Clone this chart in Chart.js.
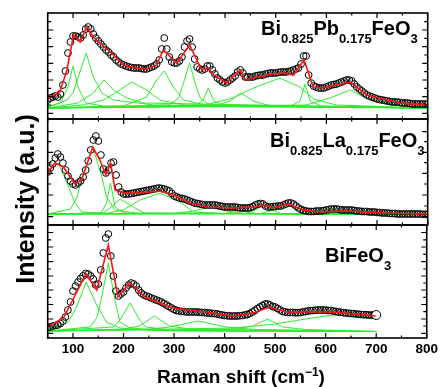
<!DOCTYPE html>
<html>
<head>
<meta charset="utf-8">
<script src="https://cdn.jsdelivr.net/npm/chart.js@4.4.0/dist/chart.umd.min.js"></script>
<style>
html,body{margin:0;padding:0;background:#fff;}
#wrap{position:relative;width:441px;height:387px;overflow:hidden;}
#wrap canvas{position:absolute;left:0;top:0;}
</style>
</head>
<body>
<div id="wrap">
  <canvas id="cPb" width="441" height="387"></canvas>
  <canvas id="cLa" width="441" height="387"></canvas>
  <canvas id="cBi" width="441" height="387"></canvas>
</div>
<script>
// Raman shift (cm-1) of the measured points, one row per 50 cm-1
const shift = [
  50,55,60,65,70,75,80,85,90,95,
  100,105,110,115,120,125,130,135,140,145,
  150,155,160,165,170,175,180,185,190,195,
  200,205,210,215,220,225,230,235,240,245,
  250,255,260,265,270,275,280,285,290,295,
  300,305,310,315,320,325,330,335,340,345,
  350,355,360,365,370,375,380,385,390,395,
  400,405,410,415,420,425,430,435,440,445,
  450,455,460,465,470,475,480,485,490,495,
  500,505,510,515,520,525,530,535,540,545,
  550,555,560,565,570,575,580,585,590,595,
  600,605,610,615,620,625,630,635,640,645,
  650,655,660,665,670,675,680,685,690,695,
  700,705,710,715,720,725,730,735,740,745,
  750,755,760,765,770,775,780,785,790,795,
  800];
const shiftBi = shift.slice(0, 131); // BiFeO3 stops at 700

// measured intensities (a.u.)
const pbIntensity = [
  19,21,22,23,22,25,34,48,66,77,
  83,83,82,81,84,90,92,90,85,81,
  78,75,72,69,67,64,62,59,57,55,
  54,53,52,51.5,51,51,51,50.5,50,50,
  51,52,53,55,59,70,81,70,62,57,
  56,56,58,62,72,78,80,72,60,52,
  50,49,50,53,53,49,45,41,39,37,
  36,37,39,41,43,47,49,46,42,42,
  42,42,43,43.5,44,44,45,45.5,46,46,
  46,46.5,47,47,47,47.5,48,49,50,51,
  55,63,63,44,36,33,32,31,31,31,
  32,33,34,34.5,35,36,37,38,39,39,
  38,35,32,30,28,26,24,23,22,21,
  20,19.5,19,18.5,18,17.5,17,17,17,16.5,
  16,16,16,15.5,15,15,15,15,15,15,
  15];
const laIntensity = [
  53,57,61,67,71,68,62,55,49,44,
  41,40,42,44,48,55,64,75,85,89,
  84,70,56,52,55,62,63,50,38,33,
  31,31,31,31.5,32,32.5,33,33.5,34,34.5,
  35,35.5,36,36.5,37,36.5,36,35,34,31.5,
  29,28,27,26.5,26,25,24,23,22,21.5,
  21,20.5,20,20,20,20,20,19.5,19,18.5,
  18,18,18,18,18,17.5,17,17,17,17,
  17.5,18.5,20,21,21.5,21,19,18,18,18.5,
  18.5,19,19,20,21,22,22,21,19,17,
  15.5,14.5,14,13.5,13.5,13.5,14,14,14,14.5,
  15,15.5,16,16,16,15.5,15,15,15,15,
  15,14.5,14,14,13.5,13.5,13.5,13,13,13,
  12.5,12.5,12,12,12,11.5,11.5,11.5,11,11,
  11,11,11,11,11,11,11,11,10.7,10.7,
  10.7];
const biIntensity = [
  10.7,11,12,12.5,13,14.5,17,21,28,36,
  47,52,56,59.5,62,64.5,64,62,59,53,
  54,68,85,100,104,82,62,47,42,44,
  46,50,53,55,54,52,48,45,43,42,
  41,40,39,38,37,36,34.5,33,31.5,30,
  28.5,27.5,27,26.5,26.5,26,26,26,26,26,
  25.7,25.5,25.5,25,25,24.5,24.5,24,23.5,23,
  22.5,22.3,22,22,22,22,22.3,22.5,23,23.5,
  24.5,26,27.5,29.5,31,32.5,34,34,33,31.5,
  31,29.5,28,26.5,26,25.5,25.5,25.5,25.3,25.3,
  25.5,26,26.5,27,27.3,27.5,27.7,28,28,28,
  28,27.5,27.5,27,26.5,26,25.7,25.3,25,24.7,
  24.5,24.3,24,23.8,23.5,23.3,23.2,23,23,23,
  23];

// fitted envelopes (red)
const pbFitShift = [50,74,88,101,114,127,140,153,180,199,226,245,265,278,305,330,354,367,377,403,430,439,482,515,535,556,574,594,647,680,745,798];
const pbFit = [20,27,49,84,77,92,82,76,64,54,51,50,54,69,56,74,49,51,44,36,49,39,44,46,44,59,32,31,37,24,16,14];
const laFitShift = [50,64,81,104,117,139,153,165,174,183,199,232,272,298,331,364,416,456,476,495,525,555,588,640,713,798];
const laFit = [52,62,58,41,45,78,65,50,62,35,32,32,34,30,22,18,17,18,20,17,21,15,13,14,12,11];
const biFitShift = [50,81,126,147,170,189,212,245,272,298,351,416,456,489,522,614,699];
const biFit = [11,20,64,48,93,41,55,40,35,30,27,22,25,31,26,26,22];

// deconvoluted peaks (green), [shift, intensity]
const pbPeaks = [
  [[50,12],[75,16],[90,32],[100,53],[110,32],[125,16],[160,13],[800,11]],
  [[50,12],[88,19],[100,26],[113,46],[126,66],[140,42],[157,26],[180,19],[260,14],[800,11]],
  [[50,11],[110,16],[140,26],[161,39],[180,29],[206,21],[240,16],[800,11]],
  [[50,11],[120,14],[160,19],[186,27],[216,37],[245,29],[272,19],[320,14],[800,11]],
  [[50,11],[200,13],[245,22],[265,39],[280,48],[298,32],[318,19],[360,14],[800,11]],
  [[50,11],[290,14],[308,21],[318,36],[330,56],[341,36],[351,21],[370,14],[800,11]],
  [[50,11],[340,13],[357,19],[367,31],[377,19],[395,13],[800,11]],
  [[50,11],[380,13],[410,18],[431,26],[456,18],[490,13],[800,11]],
  [[50,11],[360,14],[416,21],[456,31],[508,41],[548,32],[575,20],[620,14],[800,11]],
  [[50,11],[530,13],[548,18],[558,35],[568,18],[590,13],[800,11]],
  [[50,11],[560,14],[607,21],[647,29],[686,19],[740,14],[800,11]]
];
const laPeaks = [
  [[50,53],[71,62],[88,42],[104,22],[118,13],[160,11.5],[800,10.7]],
  [[50,11],[95,16],[108,28],[118,48],[139,78],[157,48],[166,28],[183,15],[230,11.5],[800,10.7]],
  [[50,11],[155,12],[166,22],[174,42],[183,18],[200,12],[800,10.7]],
  [[50,11],[160,12],[180,20],[193,26],[219,18],[240,12],[800,10.7]],
  [[50,11],[170,12],[199,15],[232,25],[272,32],[311,23],[338,13],[400,11.5],[800,10.7]],
  [[50,11],[300,11.5],[338,14],[370,18],[403,14],[440,11.5],[800,10.7]],
  [[50,11],[400,11.5],[415,13],[430,15],[445,13],[460,11.5],[800,10.7]],
  [[50,11],[440,11.5],[460,15],[476,20],[492,15],[510,11.5],[800,10.7]],
  [[50,11],[470,11.5],[495,15],[525,22],[552,14],[580,11.5],[800,10.7]]
];
const biPeaks = [
  [[50,9],[68,11],[91,16],[107,31],[126,56],[147,33],[166,16],[193,10],[260,7.5],[700,6.5]],
  [[50,7],[134,11],[147,20],[157,41],[170,75],[183,38],[193,16],[212,10],[300,7],[700,6.5]],
  [[50,7],[180,11],[193,18],[213,35],[232,18],[245,11],[300,7.5],[700,6.5]],
  [[50,7],[200,9],[232,12],[261,22],[291,12],[330,9],[700,6.5]],
  [[50,7],[240,8.5],[291,11],[348,17],[403,11],[460,8.5],[700,6.5]],
  [[50,7],[420,9],[456,12],[485,19],[515,11],[560,8.5],[700,6.5]],
  [[50,7],[420,10],[500,14],[560,19],[614,23],[660,22],[700,19]]
];

// y tick marks (no labels)
const pbYTicks = [5.7,14,22.3,30.7,39,47.3,55.7,64,72.3,80.7,89,97.3];
const laYTicks = [8.3,19,30,41,51.7,62.3,72.7,83.3,93.3];
const biYTicks = [4.7,12,19,26.3,33.5,40.7,48,55,62,69,76.3,83.7,91,98.2,105.5];

// sample names, [text, isSubscript]
const pbLabel = [['Bi',0],['0.825',1],['Pb',0],['0.175',1],['FeO',0],['3',1]];
const laLabel = [['Bi',0],['0.825',1],['La',0],['0.175',1],['FeO',0],['3',1]];
const biLabel = [['Bi',0],['FeO',0],['3',1]];

const FONT = '"Liberation Sans", Arial, Helvetica, sans-serif';
const GREEN = '#2eea2e';

const framePlugin = {
  id: 'frame',
  afterDatasetsDraw(chart, args, o){
    const {ctx, chartArea:a, scales} = chart;
    ctx.save();
    ctx.strokeStyle = '#000';
    ctx.lineWidth = 1.2;
    ctx.beginPath();
    scales.x.ticks.forEach(t=>{
      const px = scales.x.getPixelForValue(t.value);
      const len = t.value % 100 === 0 ? 5 : 2.5;
      ctx.moveTo(px, a.bottom); ctx.lineTo(px, a.bottom - len);
      ctx.moveTo(px, a.top); ctx.lineTo(px, a.top + len);
    });
    o.yTicks.forEach((v,i)=>{
      const py = scales.y.getPixelForValue(v);
      const len = i % 2 === 0 ? 5.5 : 3.5;
      ctx.moveTo(a.left, py); ctx.lineTo(a.left + len, py);
      ctx.moveTo(a.right, py); ctx.lineTo(a.right - len, py);
    });
    ctx.stroke();
    ctx.lineWidth = 1.6;
    ctx.strokeRect(a.left, a.top, a.right - a.left, a.bottom - a.top);

    // sample label with subscripts
    let x = o.labelX;
    ctx.fillStyle = '#000';
    ctx.textBaseline = 'alphabetic';
    o.label.forEach(([txt, sub])=>{
      ctx.font = sub ? 'bold 13px ' + FONT : 'bold 20px ' + FONT;
      ctx.fillText(txt, x, o.labelY + (sub ? 8 : 0));
      x += ctx.measureText(txt).width;
    });

    if(o.titles){
      // x title with superscript
      const parts = [['Raman shift (cm',0],['\u22121',1],[')',0]];
      let w = 0;
      parts.forEach(([t,s])=>{ ctx.font = (s?'bold 12px ':'bold 19px ')+FONT; w += ctx.measureText(t).width; });
      let tx = 241 - w/2;
      parts.forEach(([t,s])=>{
        ctx.font = (s?'bold 12px ':'bold 19px ')+FONT;
        ctx.fillText(t, tx, s ? 375.5 : 382.5);
        tx += ctx.measureText(t).width;
      });
      // y title
      ctx.translate(34, 199);
      ctx.rotate(-Math.PI/2);
      ctx.font = 'bold 25px ' + FONT;
      ctx.textAlign = 'center';
      ctx.fillText('Intensity (a.u.)', 0, 0);
    }
    ctx.restore();
  }
};

function pairs(xs, ys){ return xs.map((x,i)=>({x, y: ys[i]})); }

function makePanel(id, cfg){
  const n = cfg.intensity.length;
  const datasets = [
    {label:'fit', data: pairs(cfg.fitShift, cfg.fit), borderColor:'#ff1414', borderWidth:1.6,
     pointRadius:0, tension:0, order:0},
    {label:'data', data: pairs(cfg.shift, cfg.intensity), showLine:false,
     pointRadius: c => (cfg.lastBig && c.dataIndex === n-1) ? 4.5 : 3.4,
     pointBorderWidth: 1, pointBorderColor:'#000',
     pointBackgroundColor: c => (cfg.lastBig && c.dataIndex === n-1) ? '#fff' : 'rgba(255,255,255,0)',
     order:1}
  ];
  cfg.peaks.forEach((p,k)=>{
    datasets.push({label:'peak'+(k+1), data: p.map(([x,y])=>({x,y})), borderColor:GREEN,
      borderWidth:1, pointRadius:0, tension:0, order:2});
  });
  return new Chart(document.getElementById(id), {
    type:'line',
    data:{datasets},
    plugins:[framePlugin],
    options:{
      responsive:false, animation:false, devicePixelRatio:1,
      layout:{padding:cfg.padding},
      plugins:{legend:{display:false}, tooltip:{enabled:false},
        frame:{yTicks:cfg.yTicks, label:cfg.label, labelX:cfg.labelX, labelY:cfg.labelY, titles:cfg.titles}},
      scales:{
        x:{type:'linear', min:50, max:800,
          grid:{display:false, drawTicks:false}, border:{display:false},
          ticks:{stepSize:50, display:cfg.showX, autoSkip:false, maxRotation:0, padding:3,
            color:'#000', font:{family:FONT, size:13.5, weight:'bold'},
            callback: v => v % 100 === 0 ? v : ''},
          afterFit: s => { s.height = cfg.showX ? 49 : 0; }},
        y:{type:'linear', min:0, max:cfg.yMax,
          grid:{display:false, drawTicks:false}, border:{display:false},
          ticks:{display:false}, afterFit: s => { s.width = 0; }}
      }
    }
  });
}

makePanel('cPb', {shift, intensity:pbIntensity, fitShift:pbFitShift, fit:pbFit, peaks:pbPeaks,
  yTicks:pbYTicks, yMax:106, label:pbLabel, labelX:261, labelY:35, showX:false,
  padding:{left:47.7, right:13.3, top:13, bottom:268}});
makePanel('cLa', {shift, intensity:laIntensity, fitShift:laFitShift, fit:laFit, peaks:laPeaks,
  yTicks:laYTicks, yMax:106, label:laLabel, labelX:270, labelY:147, showX:false,
  padding:{left:47.7, right:13.3, top:119, bottom:162}});
makePanel('cBi', {shift:shiftBi, intensity:biIntensity, fitShift:biFitShift, fit:biFit, peaks:biPeaks,
  yTicks:biYTicks, yMax:113, label:biLabel, labelX:325, labelY:262, showX:true, lastBig:true, titles:true,
  padding:{left:47.7, right:13.3, top:225, bottom:0}});
</script>
</body>
</html>
